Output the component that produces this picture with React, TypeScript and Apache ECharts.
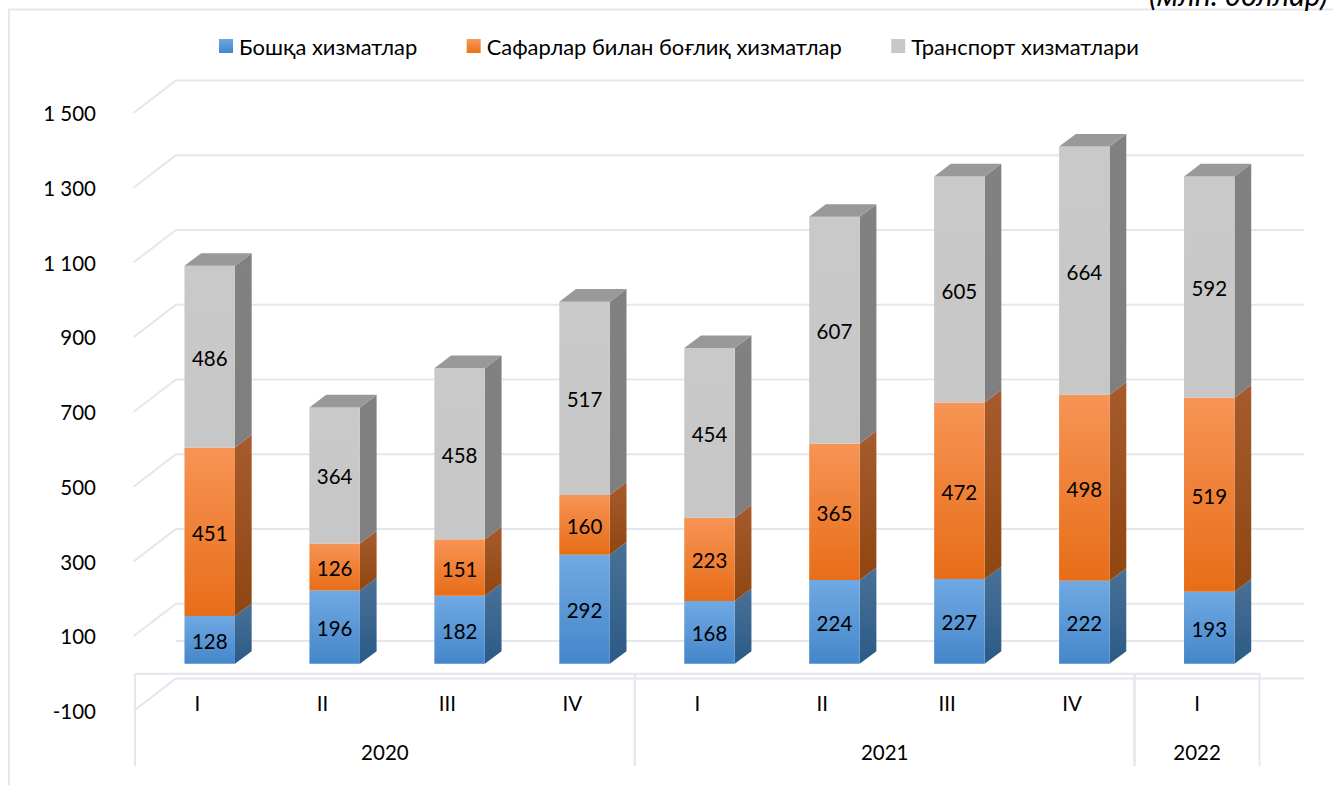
import React, { useEffect, useRef } from "react";
import * as echarts from "echarts";

const quarters = ["I", "II", "III", "IV", "I", "II", "III", "IV", "I"];
const otherServices = [128, 196, 182, 292, 168, 224, 227, 222, 193];
const travelServices = [451, 126, 151, 160, 223, 365, 472, 498, 519];
const transportServices = [486, 364, 458, 517, 454, 607, 605, 664, 592];
const yTicks = [-100, 100, 300, 500, 700, 900, 1100, 1300, 1500];
const yTickLabels = ["-100", "100", "300", "500", "700", "900", "1 100", "1 300", "1 500"];
const backWallValues = [-100, 0, 100, 300, 500, 700, 900, 1100, 1300, 1500];
const yearNames = ["2020", "2021", "2022"];
const yearStarts = [0, 4, 8];
const yearEnds = [4, 8, 9];
const seriesNames = ["Бошқа хизматлар", "Сафарлар билан боғлиқ хизматлар", "Транспорт хизматлари"];
const unitNote = "(млн. доллар)";

const FONT = "Lato, 'Open Sans', 'Noto Sans', sans-serif";
const GRID = "#E4E7EE";
const grad = (a: string, b: string) =>
  new echarts.graphic.LinearGradient(0, 0, 0, 1, [
    { offset: 0, color: a },
    { offset: 1, color: b },
  ]);

const palette = [
  { front: ["#70A9E3", "#4486CA"], side: ["#4A7197", "#2A5A86"], legend: ["#6AA6E0", "#4487CC"] },
  { front: ["#F79455", "#E76D18"], side: ["#A75B2E", "#8F4611"], legend: ["#F69A5E", "#EC7016"] },
  { front: ["#C9C9C9", "#C7C7C7"], side: ["#818181", "#7F7F7F"], legend: ["#C9C9C9", "#C7C7C7"] },
];

const BAR_LEFT = -13;
const BAR_RIGHT = 37.5;
const BASE_DY = -9.8;
const DEPTH_X = 16.7;
const DEPTH_Y = -12.6;

function barSeries(layer: number, values: number[], below: number[], isTop: boolean) {
  return {
    type: "custom",
    name: seriesNames[layer],
    coordinateSystem: "cartesian2d",
    xAxisIndex: 0,
    yAxisIndex: 0,
    z: 5,
    clip: false,
    itemStyle: { color: grad(palette[layer].legend[0], palette[layer].legend[1]) },
    data: values.map((v, i) => [i, below[i], below[i] + v, v]),
    encode: { x: 0, y: 2 },
    renderItem: (_p: any, api: any) => {
      const i = api.value(0);
      const lo = api.coord([i, api.value(1)]);
      const hi = api.coord([i, api.value(2)]);
      const xl = lo[0] + BAR_LEFT;
      const xr = lo[0] + BAR_RIGHT;
      const yb = lo[1] + BASE_DY;
      const yt = hi[1] + BASE_DY;
      const children: any[] = [
        {
          type: "polygon",
          shape: { points: [[xr, yt], [xr + DEPTH_X, yt + DEPTH_Y], [xr + DEPTH_X, yb + DEPTH_Y], [xr, yb]] },
          style: { fill: grad(palette[layer].side[0], palette[layer].side[1]) },
        },
        {
          type: "polygon",
          shape: { points: [[xl, yt], [xr, yt], [xr, yb], [xl, yb]] },
          style: { fill: grad(palette[layer].front[0], palette[layer].front[1]) },
        },
      ];
      if (isTop) {
        children.push({
          type: "polygon",
          shape: { points: [[xl, yt], [xl + DEPTH_X, yt + DEPTH_Y], [xr + DEPTH_X, yt + DEPTH_Y], [xr, yt]] },
          style: { fill: "#999999" },
        });
      }
      children.push({
        type: "text",
        x: (xl + xr) / 2,
        y: (yt + yb) / 2 + 1,
        style: {
          text: String(api.value(3)),
          fill: "#000000",
          font: `20.5px ${FONT}`,
          align: "center",
          verticalAlign: "middle",
        },
      });
      return { type: "group", children };
    },
  };
}

const zeros = quarters.map(() => 0);
const sum = (a: number[], b: number[]) => a.map((v, i) => v + b[i]);

function App() {
  const ref = useRef<HTMLDivElement>(null);
  useEffect(() => {
    const chart = echarts.init(ref.current!, undefined, { renderer: "svg" });
    chart.setOption({
      animation: false,
      backgroundColor: "#FFFFFF",
      textStyle: { fontFamily: FONT },
      grid: { left: 135, width: 1124.5, top: 113, height: 598 },
      legend: {
        data: seriesNames,
        left: 219,
        top: 35,
        padding: 0,
        itemWidth: 14,
        itemHeight: 14,
        itemGap: 49.5,
        icon: "rect",
        textStyle: { fontFamily: FONT, fontSize: 21.9, color: "#000000", padding: [0, 0, 0, 1] },
      },
      xAxis: [
        {
          type: "category",
          data: quarters,
          axisTick: { show: false },
          axisLine: { show: true, lineStyle: { color: GRID, width: 2 } },
          axisLabel: { show: true, interval: 0, margin: -19, fontFamily: FONT, fontSize: 20.5, color: "#000000" },
          splitLine: { show: false },
        },
        { type: "value", min: 0, max: 9, show: false, splitLine: { show: false } },
      ],
      yAxis: {
        type: "value",
        min: -100,
        max: 1500,
        interval: 100,
        axisLine: { show: false },
        axisTick: { show: false },
        splitLine: { show: false },
        axisLabel: {
          margin: 39,
          fontFamily: FONT,
          fontSize: 20.5,
          color: "#000000",
          formatter: (v: number) => {
            const k = yTicks.indexOf(v);
            return k >= 0 ? yTickLabels[k] : "";
          },
        },
      },
      graphic: [
        {
          type: "polyline",
          silent: true,
          shape: { points: [[9, 790], [9, 9.5], [1340, 9.5]] },
          style: { stroke: GRID, lineWidth: 2, fill: "none" },
        },
        {
          type: "text",
          x: 1328,
          y: 9,
          style: {
            text: unitNote,
            font: `italic 30.5px ${FONT}`,
            fill: "#000000",
            align: "right",
            verticalAlign: "bottom",
          },
        },
      ],
      series: [
        {
          type: "custom",
          coordinateSystem: "cartesian2d",
          xAxisIndex: 1,
          yAxisIndex: 0,
          z: 1,
          clip: false,
          silent: true,
          data: backWallValues.map((v) => [0, v]),
          renderItem: (_p: any, api: any) => {
            const v = api.value(1);
            const a = api.coord([0, v]);
            const b = api.coord([9, v]);
            const dx = 42;
            const dy = -32.6;
            const style = { stroke: GRID, lineWidth: 2, fill: "none" };
            const children: any[] = [
              { type: "line", shape: { x1: a[0] + dx - 1, y1: a[1] + dy, x2: b[0] + dx + 2.5, y2: b[1] + dy }, style },
            ];
            if (v !== 0) {
              children.push({
                type: "line",
                shape: { x1: a[0] - 1.5, y1: a[1], x2: a[0] + dx - 1, y2: a[1] + dy },
                style,
              });
            }
            return { type: "group", children };
          },
        },
        {
          type: "custom",
          coordinateSystem: "cartesian2d",
          xAxisIndex: 1,
          yAxisIndex: 0,
          z: 2,
          clip: false,
          silent: true,
          data: yearNames.map((_n, i) => [yearStarts[i], 0, yearEnds[i], i]),
          renderItem: (_p: any, api: any) => {
            const s = api.value(0);
            const e = api.value(2);
            const top1 = api.coord([s, 0]);
            const top2 = api.coord([e, 0]);
            const low = api.coord([s, -100])[1];
            const style = { stroke: GRID, lineWidth: 2, fill: "none" };
            return {
              type: "group",
              children: [
                { type: "line", shape: { x1: top1[0], y1: top1[1], x2: top2[0], y2: top2[1] }, style },
                { type: "line", shape: { x1: top1[0], y1: top1[1], x2: top1[0], y2: low + 55 }, style },
                { type: "line", shape: { x1: top2[0], y1: top2[1], x2: top2[0], y2: low + 55 }, style },
                {
                  type: "text",
                  x: (top1[0] + top2[0]) / 2,
                  y: low + 41,
                  style: {
                    text: yearNames[api.value(3)],
                    fill: "#000000",
                    font: `20.5px ${FONT}`,
                    align: "center",
                    verticalAlign: "middle",
                  },
                },
              ],
            };
          },
        },
        barSeries(0, otherServices, zeros, false),
        barSeries(1, travelServices, otherServices, false),
        barSeries(2, transportServices, sum(otherServices, travelServices), true),
      ],
    });
    return () => chart.dispose();
  }, []);
  return <div ref={ref} style={{ position: "fixed", left: 0, top: 0, width: 1333, height: 785 }} />;
}

export default App;
